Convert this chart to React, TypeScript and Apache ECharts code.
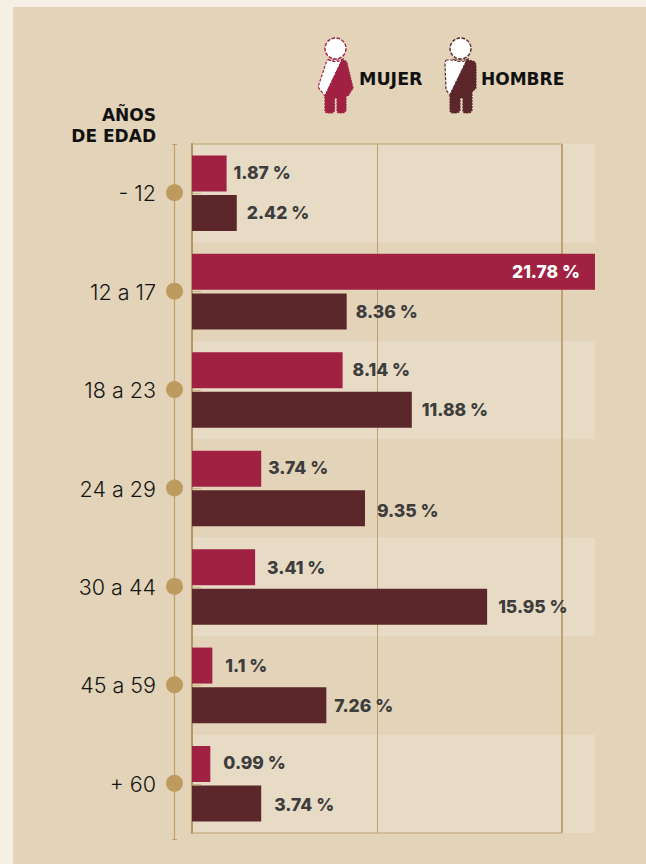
import React, { useEffect, useRef } from "react";
import * as echarts from "echarts";

const ageGroups = ["- 12", "12 a 17", "18 a 23", "24 a 29", "30 a 44", "45 a 59", "+ 60"];
const mujerValues = [1.87, 21.78, 8.14, 3.74, 3.41, 1.1, 0.99];
const hombreValues = [2.42, 8.36, 11.88, 9.35, 15.95, 7.26, 3.74];
const seriesNames = ["MUJER", "HOMBRE"];
const axisTitle = "AÑOS\nDE EDAD";

const mujerLabelGaps = [7, 0, 10, 7, 12, 13, 13];
const hombreLabelGaps = [10, 9, 10, 12, 11, 8, 13];
const mujerLabelDy = [-1, 0, -1, -1, 0, 0, -1];
const hombreLabelDy = [-1, 0, 0, 2, 0, 0, 1];

const CRIMSON = "#a12143";
const MAROON = "#5b272a";
const TAN = "#bd9a5e";
const FONT = "Inter, 'Noto Sans', sans-serif";
const HEAD_FONT = "'DejaVu Sans', Inter, sans-serif";

const W = 646;
const H = 864;

const mujerLeftPath = "M327 60 L342 60 L325 96 L318 87 Z";
const mujerRightPath =
  "M342 60 Q346 60 347 63 L353 88 L348 96 L346 96 L346 110 Q345 113 342 113 L339 113 Q337 113 337 110 L337 98 L334.5 98 L334.5 110 Q334 113 331 113 L328 113 Q325 113 325 110 L325 96 Z";
const hombreLeftPath = "M447 60 Q445 60 445 64 L446 90 L450 95 L467 60 Z";
const hombreRightPath =
  "M467 60 L473 61 Q476 62 476 66 L476 88 L472 92 L472 110 Q471 113 468 113 L465 113 Q463 113 463 110 L463 98 L460 98 L460 110 Q459 113 456 113 L453 113 Q450 113 450 110 L450 95 Z";

echarts.graphic.registerShape("mujerLeft", echarts.graphic.extendPath(mujerLeftPath, {}));
echarts.graphic.registerShape("mujerRight", echarts.graphic.extendPath(mujerRightPath, {}));
echarts.graphic.registerShape("hombreLeft", echarts.graphic.extendPath(hombreLeftPath, {}));
echarts.graphic.registerShape("hombreRight", echarts.graphic.extendPath(hombreRightPath, {}));

function person(prefix: string, headX: number, color: string) {
  return [
    { type: prefix + "Left", x: 0, y: 0, z: 5, style: { fill: "#fff", stroke: color, lineWidth: 1.2, lineDash: [3, 1.5] } },
    { type: prefix + "Right", x: 0, y: 0, z: 5, style: { fill: color, stroke: color, lineWidth: 1.2, lineDash: [2, 1] } },
    { type: "circle", z: 5, shape: { cx: headX, cy: 48.5, r: 10.5 }, style: { fill: "#fff", stroke: color, lineWidth: 1.4, lineDash: [3.5, 1.5] } },
    { type: "arc", z: 5, shape: { cx: headX, cy: 48.5, r: 13, startAngle: Math.PI * 0.28, endAngle: Math.PI * 0.72 }, style: { fill: "none", stroke: color, lineWidth: 1.2, lineDash: [3, 1.5] } },
  ];
}

export default function App() {
  const ref = useRef<HTMLDivElement>(null);

  useEffect(() => {
    document.body.style.margin = "0";
    const chart = echarts.init(ref.current!, undefined, { renderer: "svg" });

    const valueLabel = { color: "#3d3d3d", fontFamily: FONT, fontWeight: 800, fontSize: 17.5 };

    chart.setOption({
      animation: false,
      backgroundColor: "#f5efe6",
      grid: { left: 192, top: 144, width: 403, height: 689, containLabel: false },
      xAxis: {
        type: "value",
        min: 0,
        max: 21.78,
        interval: 10,
        axisLabel: { show: false },
        axisLine: { show: false },
        axisTick: { show: false },
        splitLine: { show: true, showMaxLine: false, showMinLine: false, lineStyle: { color: "#bfa274", width: 1 } },
      },
      yAxis: {
        type: "category",
        inverse: true,
        data: ageGroups,
        axisLine: { show: true, lineStyle: { color: "#ab8757", width: 2 } },
        axisTick: { show: true, inside: true, length: 9, alignWithLabel: true, lineStyle: { color: "#cdb284", width: 1 } },
        axisLabel: { margin: 36, color: "#141414", fontFamily: FONT, fontSize: 21.5, fontWeight: 300, padding: [0, 0, 2, 0] },
        splitArea: { show: true, interval: 0, areaStyle: { color: ["#e7dbc5", "rgba(0,0,0,0)"] } },
        splitLine: { show: false },
      },
      series: [
        {
          name: seriesNames[0],
          type: "bar",
          barWidth: 36,
          barGap: "10%",
          itemStyle: { color: CRIMSON },
          data: mujerValues.map((v, i) => ({
            value: v,
            label:
              v > 20
                ? { show: true, position: "insideRight", distance: 15, formatter: "{c} %", ...valueLabel, color: "#fff" }
                : { show: true, position: "right", distance: mujerLabelGaps[i], offset: [0, mujerLabelDy[i]], formatter: "{c} %", ...valueLabel },
          })),
        },
        {
          name: seriesNames[1],
          type: "bar",
          barWidth: 36,
          itemStyle: { color: MAROON },
          data: hombreValues.map((v, i) => ({
            value: v,
            label: { show: true, position: "right", distance: hombreLabelGaps[i], offset: [0, hombreLabelDy[i]], formatter: "{c} %", ...valueLabel },
          })),
        },
        {
          type: "custom",
          z: 6,
          silent: true,
          clip: false,
          encode: { x: 0, y: 1 },
          data: ageGroups.map((g) => [0, g]),
          renderItem: (_p: any, api: any) => {
            const pt = api.coord([0, api.value(1)]);
            return {
              type: "circle",
              shape: { cx: pt[0] - 17.5, cy: pt[1] - 0.5, r: 8.5 },
              style: { fill: TAN },
            };
          },
        },
      ],
      graphic: {
        elements: [
          { type: "rect", z: -10, zlevel: 0, silent: true, shape: { x: 13, y: 7, width: W - 13, height: H - 7 }, style: { fill: "#e2d3b9" } },
          { type: "rect", z: 1, silent: true, shape: { x: 192, y: 144, width: 369.5, height: 689 }, style: { fill: "none", stroke: "#bfa274", lineWidth: 1 } },
          { type: "line", z: 1, silent: true, shape: { x1: 174.5, y1: 144, x2: 174.5, y2: 839 }, style: { stroke: "#c3a067", lineWidth: 1.2 } },
          { type: "line", z: 1, silent: true, shape: { x1: 172, y1: 144.5, x2: 177, y2: 144.5 }, style: { stroke: "#c3a067", lineWidth: 1 } },
          { type: "line", z: 1, silent: true, shape: { x1: 172, y1: 839.5, x2: 177, y2: 839.5 }, style: { stroke: "#c3a067", lineWidth: 1 } },
          { type: "text", z: 5, style: { x: 156, y: 104, text: axisTitle, align: "right", verticalAlign: "top", fill: "#111", fontFamily: HEAD_FONT, fontWeight: 700, fontSize: 17, lineHeight: 21 } },
          { type: "text", z: 5, style: { x: 359, y: 79, text: seriesNames[0], align: "left", verticalAlign: "middle", fill: "#111", fontFamily: HEAD_FONT, fontWeight: 700, fontSize: 17.5 } },
          { type: "text", z: 5, style: { x: 481, y: 79, text: seriesNames[1], align: "left", verticalAlign: "middle", fill: "#111", fontFamily: HEAD_FONT, fontWeight: 700, fontSize: 17 } },
          ...person("mujer", 335.5, CRIMSON),
          ...person("hombre", 460.5, MAROON),
        ],
      },
    });

    return () => chart.dispose();
  }, []);

  return <div ref={ref} style={{ width: W, height: H }} />;
}
